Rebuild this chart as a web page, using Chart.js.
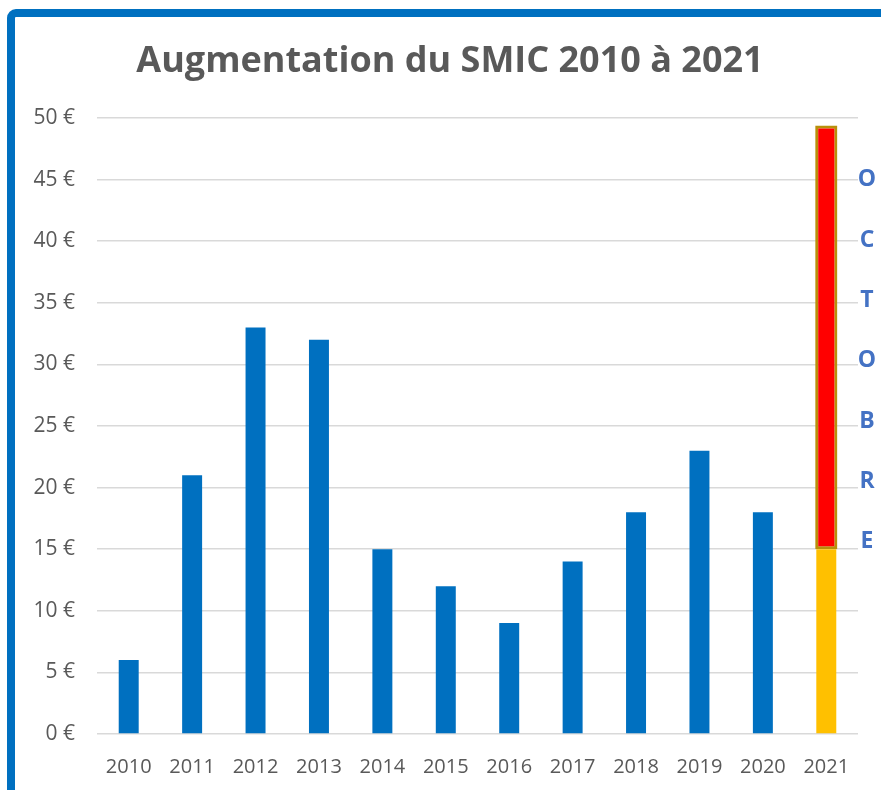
<!DOCTYPE html>
<html lang="fr">
<head>
<meta charset="utf-8">
<script src="https://cdn.jsdelivr.net/npm/chart.js@4/dist/chart.umd.min.js"></script>
<style>
  html, body { margin: 0; padding: 0; background: #fff; overflow: hidden; }
  #cadre {
    position: absolute; left: 7px; top: 9px; width: 1000px; height: 1000px;
    border: 8px solid #0070C0; border-radius: 9px; box-sizing: border-box;
  }
  #graph { position: absolute; left: 0; top: 0; }
</style>
</head>
<body>
<div id="cadre"></div>
<canvas id="graph" width="881" height="790"></canvas>
<script>
// Données
const annees = ['2010', '2011', '2012', '2013', '2014', '2015', '2016', '2017', '2018', '2019', '2020', '2021'];
const augmentation = [6, 21, 33, 32, 15, 12, 9, 14, 18, 23, 18, null];
const janvier2021 = [null, null, null, null, null, null, null, null, null, null, null, 15];
const octobre2021 = [null, null, null, null, null, null, null, null, null, null, null, 34.4];
const lettres = ['O', 'C', 'T', 'O', 'B', 'R', 'E'];
const lettresPos = [45, 40.1, 35.2, 30.3, 25.4, 20.5, 15.6];

const TITRE = 'Augmentation du SMIC 2010 à 2021';
const GRIS = '#595959';

// Titre + texte "OCTOBRE" à droite de la dernière barre
const pluginTextes = {
    id: 'textes',
    afterDraw(chart) {
        const ctx = chart.ctx;
        const y = chart.scales.y;
        ctx.save();
        ctx.font = 'bold 36px "Open Sans"';
        ctx.fillStyle = GRIS;
        ctx.textAlign = 'center';
        ctx.textBaseline = 'middle';
        ctx.fillText(TITRE, 450, 62);

        ctx.font = 'bold 23px "Open Sans"';
        ctx.fillStyle = '#4472C4';
        lettres.forEach((l, i) => {
            ctx.fillText(l, 867, y.getPixelForValue(lettresPos[i]));
        });
        ctx.restore();
    }
};

new Chart(document.getElementById('graph'), {
    type: 'bar',
    data: {
        labels: annees,
        datasets: [{
            label: 'Augmentation',
            data: augmentation,
            backgroundColor: '#0070C0',
            barPercentage: 0.315,
            categoryPercentage: 1
        }, {
            label: 'Janvier 2021',
            data: janvier2021,
            backgroundColor: '#FFC000',
            barPercentage: 0.315,
            categoryPercentage: 1
        }, {
            label: 'Octobre 2021',
            data: octobre2021,
            backgroundColor: '#FF0000',
            borderColor: '#B8900A',
            borderWidth: 3,
            borderSkipped: false,
            barPercentage: 0.35,
            categoryPercentage: 1
        }]
    },
    options: {
        responsive: false,
        animation: false,
        layout: { padding: { left: 0, right: 23, top: 118, bottom: 0 } },
        plugins: {
            legend: { display: false },
            tooltip: { enabled: false },
            title: { display: false }
        },
        scales: {
            x: {
                stacked: true,
                grid: { display: false },
                border: { display: false },
                ticks: {
                    color: GRIS,
                    font: { family: '"Open Sans"', size: 20 },
                    padding: 13
                },
                afterFit(s) { s.height = 56; }
            },
            y: {
                stacked: true,
                min: 0,
                max: 50,
                grid: { color: '#D9D9D9', lineWidth: 1.5, drawTicks: false },
                border: { display: false },
                ticks: {
                    stepSize: 5,
                    color: GRIS,
                    font: { family: '"Open Sans"', size: 21 },
                    padding: 22,
                    callback: v => v + ' €'
                },
                afterFit(s) { s.width = 97; }
            }
        }
    },
    plugins: [pluginTextes]
});
</script>
</body>
</html>
